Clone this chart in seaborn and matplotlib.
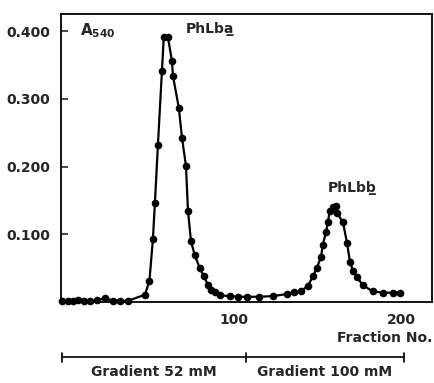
import matplotlib
matplotlib.use('Agg')
import matplotlib.pyplot as plt
import seaborn as sns
import pandas as pd

# fraction number and absorbance at 540 nm
fraction = [-3, 0.5, 3.5, 6.5, 10, 14, 18, 23, 27.5, 32, 36.5,
            46.7, 49.4, 51.5, 52.7, 54.5, 56.9, 58, 60.5, 62.9, 63.5,
            67, 68.9, 71.3, 72.5, 74.3, 76.6, 79.6, 82, 84.4, 86.2,
            88.6, 91.6, 97.6, 102.4, 107.8, 115, 123.4, 131.7, 135.9, 140,
            144.3, 147.3, 149.7, 152.1, 153.3, 155.1, 156.3, 157.5, 159.3, 161.1,
            161.7, 165.3, 167.7, 169.5, 171.3, 173.7, 177.2, 183.2, 189.2, 195.2, 199.4]
a540 = [0.002, 0.002, 0.002, 0.003, 0.002, 0.002, 0.003, 0.006, 0.002, 0.002, 0.002,
        0.011, 0.031, 0.093, 0.147, 0.232, 0.341, 0.391, 0.391, 0.356, 0.334,
        0.287, 0.243, 0.201, 0.135, 0.090, 0.069, 0.050, 0.038, 0.026, 0.018,
        0.015, 0.010, 0.009, 0.008, 0.008, 0.008, 0.009, 0.012, 0.015, 0.016,
        0.024, 0.038, 0.051, 0.066, 0.085, 0.103, 0.119, 0.135, 0.141, 0.142,
        0.132, 0.118, 0.088, 0.060, 0.046, 0.037, 0.025, 0.016, 0.014, 0.014, 0.014]

y_ticks = [0.1, 0.2, 0.3, 0.4]
x_ticks = [100, 200]

# salt gradient segments under the axis
grad_edges = [-3, 107, 202]
grad_labels = ['Gradient 52 mM', 'Gradient 100 mM']

df = pd.DataFrame({'fraction': fraction, 'A540': a540})

sns.set_style('ticks')
plt.rcParams['font.family'] = ['DejaVu Sans']
plt.rcParams['font.weight'] = 'bold'

fig = plt.figure(figsize=(4.35, 3.83), dpi=100)
ax = fig.add_axes([0.140, 0.211, 0.853, 0.752])

sns.lineplot(data=df, x='fraction', y='A540', ax=ax, color='black',
             marker='o', markersize=5.5, markeredgewidth=0, linewidth=1.6,
             clip_on=False)

ax.set_xlim(-3.6, 218.6)
ax.set_ylim(0.0, 0.425)
ax.set_yticks(y_ticks)
ax.set_yticklabels(['%.3f' % v for v in y_ticks])
ax.set_xticks(x_ticks)
ax.set_xticklabels([str(v) for v in x_ticks])
ax.tick_params(axis='y', direction='in', length=5, width=1.2, pad=8, labelsize=10)
ax.tick_params(axis='x', length=0, pad=8, labelsize=10)
for s in ax.spines.values():
    s.set_linewidth(1.3)
    s.set_color('black')

ax.set_ylabel('')
ax.set_xlabel('Fraction No.', loc='right', fontsize=10, fontweight='bold', labelpad=3)

ax.text(7.8, 0.400, r'$\mathbf{A_{540}}$', fontsize=11, va='center', ha='left')
ax.text(71.3, 0.403, 'PhLba\u0332', fontsize=10, va='center', ha='left')
ax.text(156.3, 0.169, 'PhLbb\u0332', fontsize=10, va='center', ha='left')

tr = ax.get_xaxis_transform()
ax.plot([grad_edges[0], grad_edges[-1]], [-0.191, -0.191], color='black',
        linewidth=1.2, transform=tr, clip_on=False)
for e in grad_edges:
    ax.plot([e, e], [-0.175, -0.207], color='black', linewidth=1.2,
            transform=tr, clip_on=False)
for i, lab in enumerate(grad_labels):
    mid = (grad_edges[i] + grad_edges[i + 1]) / 2
    ax.text(mid, -0.243, lab, transform=tr, ha='center', va='center', fontsize=10)

fig.savefig('out.png', dpi=100)
